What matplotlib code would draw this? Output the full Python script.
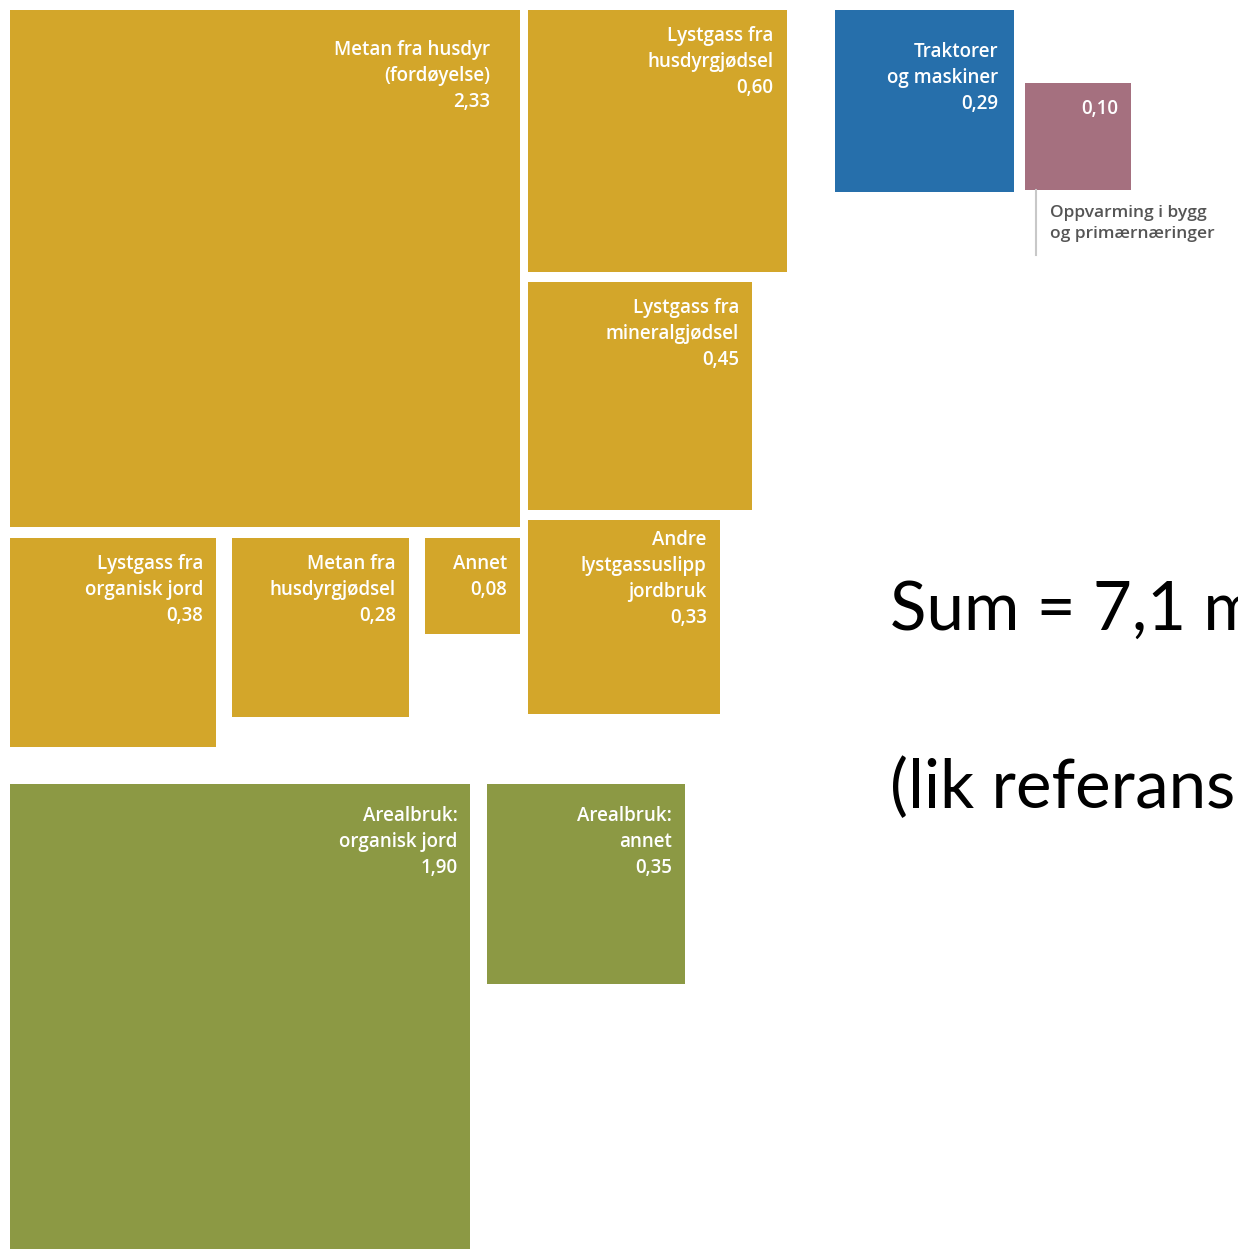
import numpy as np
import matplotlib.pyplot as plt
from matplotlib.patches import Rectangle

# utslipp, mill. tonn CO2-ekv.
main_label = "Metan fra husdyr\n(fordøyelse)"
main_value = 2.33

side_labels = ["Lystgass fra\nhusdyrgjødsel", "Lystgass fra\nmineralgjødsel",
               "Andre\nlystgassuslipp\njordbruk"]
side_values = [0.60, 0.45, 0.33]

row_labels = ["Lystgass fra\norganisk jord", "Metan fra\nhusdyrgjødsel", "Annet"]
row_values = [0.38, 0.28, 0.08]

land_labels = ["Arealbruk:\norganisk jord", "Arealbruk:\nannet"]
land_values = [1.90, 0.35]

energy_labels = ["Traktorer\nog maskiner", ""]
energy_values = [0.29, 0.10]
heat_note = "Oppvarming i bygg\nog primærnæringer"

sum_lines = ["Sum = 7,1 mill. tonn CO2-ekv.", "(lik referansebanen)"]

GOLD = "#D3A62A"
GREEN = "#8C9944"
BLUE = "#266FAB"
PINK = "#A5707F"

W, H = 1238, 1249
K = 334.0      # px per sqrt(value)
YS = 1.014     # vertical stretch in the source image
M, G = 10, 8

def side(v):
    s = K * np.sqrt(v)
    return s, s * YS

fig = plt.figure(figsize=(W / 100, H / 100), dpi=100)
ax = fig.add_axes([0, 0, 1, 1])
ax.set_xlim(0, W)
ax.set_ylim(H, 0)
ax.axis("off")

def box(x, y, v, label, color, pad_r=13, pad_t=16):
    w, h = side(v)
    ax.add_patch(Rectangle((x, y), w, h, facecolor=color, edgecolor="none"))
    txt = (label + "\n" if label else "") + f"{v:.2f}".replace(".", ",")
    ax.text(x + w - pad_r, y + pad_t, txt, ha="right", va="top", color="white",
            fontsize=13.5, fontweight="semibold", family=["Open Sans", "DejaVu Sans"],
            linespacing=1.4)
    return w, h

# big square
mw, mh = box(M, M, main_value, main_label, GOLD, pad_r=30, pad_t=30)

# column to the right
cx = M + mw + G
cy = M
col_w = 0
for lab, v in zip(side_labels, side_values):
    w, h = box(cx, cy, v, lab, GOLD, pad_t=16 if cy < 500 else 10)
    cy += h + 10
    col_w = max(col_w, w)

# row below the big square, spread across its width
ry = M + mh + 11
ws = [side(v)[0] for v in row_values]
gap = (mw - sum(ws)) / (len(ws) - 1)
rx = M
row_h = 0
for lab, v in zip(row_labels, row_values):
    w, h = box(rx, ry, v, lab, GOLD)
    rx += w + gap
    row_h = max(row_h, h)

# land use
ly = ry + row_h + 37
lx = M
for lab, v in zip(land_labels, land_values):
    w, h = box(lx, ly, v, lab, GREEN, pad_t=22)
    lx += w + 17

# energy
ex = cx + col_w + 48
bw, bh = box(ex, M, energy_values[0], energy_labels[0], BLUE, pad_r=16, pad_t=32)
px = ex + bw + 11
pw, ph = side(energy_values[1])
py = M + bh - ph - 2
box(px, py, energy_values[1], energy_labels[1], PINK)

ax.plot([px + 11, px + 11], [py + ph, py + ph + 65], color="#c8c8c8", lw=1.5)
ax.text(px + 25, py + ph + 15, heat_note, ha="left", va="top", color="#555555",
        fontsize=12.5, fontweight="semibold", family=["Open Sans", "DejaVu Sans"],
        linespacing=1.4)

ax.text(890, 630, sum_lines[0], ha="left", va="baseline", color="black",
        fontsize=48.5, family=["Lato", "DejaVu Sans"])
ax.text(890, 808, sum_lines[1], ha="left", va="baseline", color="black",
        fontsize=48.5, family=["Lato", "DejaVu Sans"])

fig.savefig("out.png", dpi=100)
